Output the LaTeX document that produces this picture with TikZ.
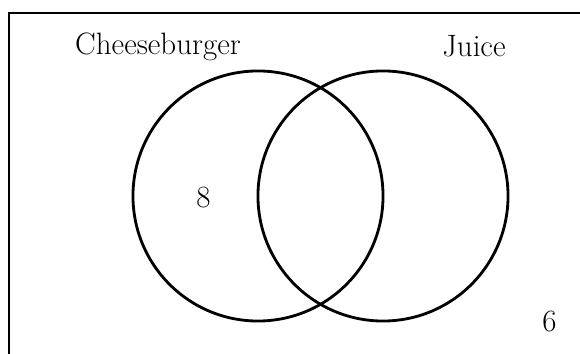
\documentclass[tikz,border=0pt]{standalone}
\usepackage{tikz}
\usetikzlibrary{positioning}

\begin{document}
\begin{tikzpicture}[
    x=0.025cm, y=-0.025cm,
    font=\fontsize{22}{26}\selectfont,
    % Styles
    setcircle/.style={circle, draw=black, line width=2pt, minimum size=6.25cm, inner sep=0pt},
    frame/.style={draw=black, line width=2pt},
    setlabel/.style={inner sep=0pt, anchor=base}
]

% --- Page area ---
\useasboundingbox (0,0) rectangle (580,354);
\clip (0,0) rectangle (580,354);

% --- Universal set ---
\draw[frame] (9,13) rectangle (620,400);

% --- Sets ---
\node[setcircle] (cheese) at (258,196) {};
\node[setcircle] (juice) at (383,196) {};

% --- Labels ---
\node[setlabel] (cheese_lbl) at (158,55) {Cheeseburger};
\node[setlabel] (juice_lbl) at (474,57) {Juice};
\node[setlabel] (only_cheese) at (203.5,208) {8};
\node[setlabel] (neither) at (549.5,331) {6};

\end{tikzpicture}
\end{document}
